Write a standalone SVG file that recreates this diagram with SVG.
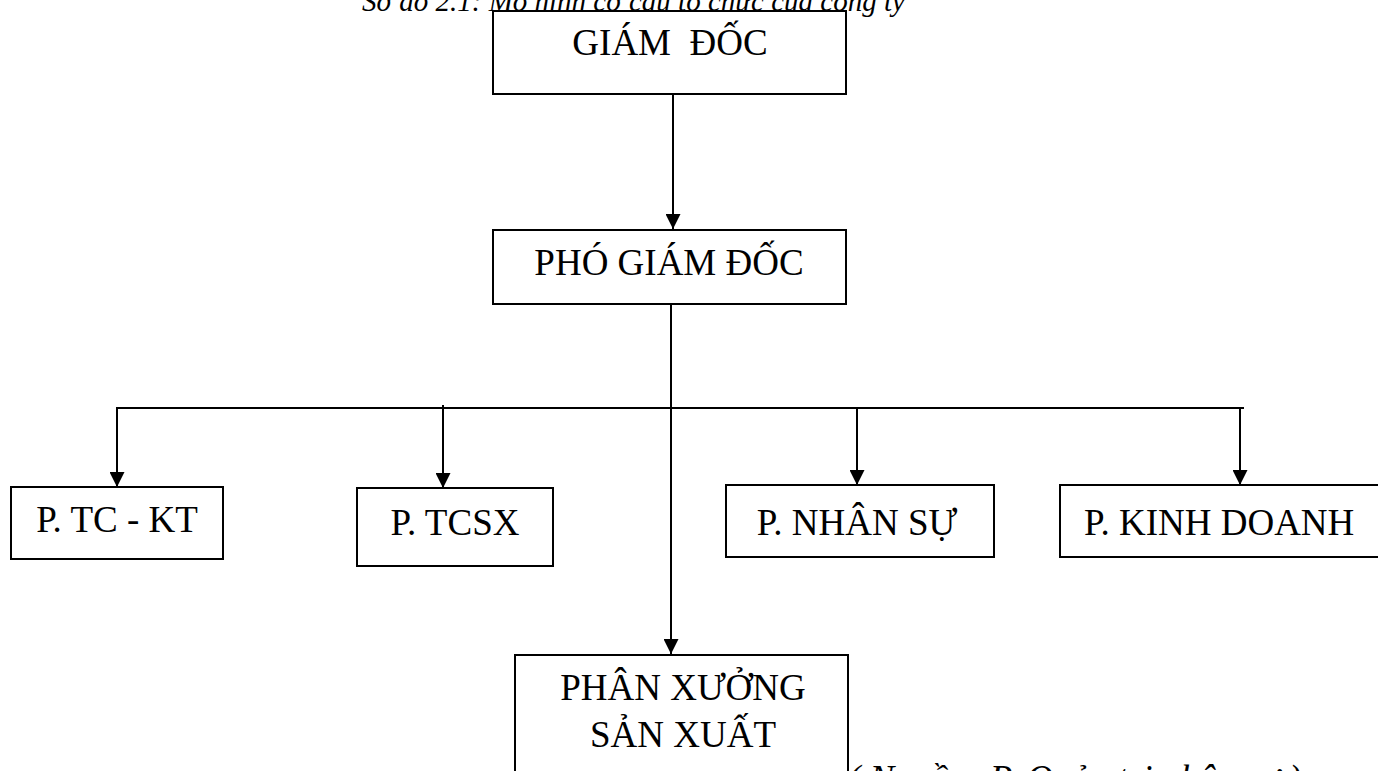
<svg xmlns="http://www.w3.org/2000/svg" width="1378" height="771" viewBox="0 0 1378 771">
<style>
  .box { fill: #ffffff; stroke: #000000; stroke-width: 2; }
  .lbl { font-family: "Liberation Serif", "Times New Roman", serif; font-size: 37px; fill: #000000; white-space: pre; }
  .mid { text-anchor: middle; }
  .ital { font-family: "Liberation Serif", "Times New Roman", serif; font-style: italic; fill: #000000; white-space: pre; }
  .conn { stroke: #000000; stroke-width: 2; fill: none; }
</style>
<defs>
  <marker id="arrow" viewBox="0 0 15 15" refX="15" refY="7.5" markerWidth="15" markerHeight="15" markerUnits="userSpaceOnUse" orient="auto">
    <path d="M0,0 L15,7.5 L0,15 Z" fill="#000000"/>
  </marker>
</defs>
<rect width="1378" height="771" fill="#ffffff"/>

<text class="ital" x="362" y="11" font-size="29">Sơ đồ 2.1: Mô hình cơ cấu tổ chức của công ty</text>

<g id="connectors">
  <line class="conn" x1="673" y1="94" x2="673" y2="229" marker-end="url(#arrow)"/>
  <line class="conn" x1="671" y1="304" x2="671" y2="654" marker-end="url(#arrow)"/>
  <line class="conn" x1="116" y1="408" x2="1244" y2="408"/>
  <line class="conn" x1="117" y1="408" x2="117" y2="487" marker-end="url(#arrow)"/>
  <line class="conn" x1="443" y1="405" x2="443" y2="488" marker-end="url(#arrow)"/>
  <line class="conn" x1="857" y1="408" x2="857" y2="485" marker-end="url(#arrow)"/>
  <line class="conn" x1="1240" y1="408" x2="1240" y2="485" marker-end="url(#arrow)"/>
</g>

<g id="giam-doc">
  <rect class="box" x="493" y="11" width="353" height="83"/>
  <text class="lbl mid" x="670" y="55">GIÁM  ĐỐC</text>
</g>

<g id="pho-giam-doc">
  <rect class="box" x="493" y="230" width="353" height="74"/>
  <text class="lbl mid" x="669" y="275">PHÓ GIÁM ĐỐC</text>
</g>

<g id="p-tc-kt">
  <rect class="box" x="11" y="487" width="212" height="72"/>
  <text class="lbl mid" x="117" y="532">P. TC - KT</text>
</g>

<g id="p-tcsx">
  <rect class="box" x="357" y="488" width="196" height="78"/>
  <text class="lbl mid" x="455" y="535">P. TCSX</text>
</g>

<g id="p-nhan-su">
  <rect class="box" x="726" y="485" width="268" height="72"/>
  <text class="lbl mid" x="857" y="535">P. NHÂN SỰ</text>
</g>

<g id="p-kinh-doanh">
  <rect class="box" x="1060" y="485" width="330" height="72"/>
  <text class="lbl" x="1084" y="535">P. KINH DOANH</text>
</g>

<g id="phan-xuong">
  <rect class="box" x="515" y="655" width="333" height="140"/>
  <text class="lbl mid" x="683" y="700">PHÂN XƯỞNG</text>
  <text class="lbl mid" x="683" y="747">SẢN XUẤT</text>
</g>

<text class="ital" x="848" y="791" font-size="37">( Nguồn: P. Quản trị nhân sự )</text>
</svg>
